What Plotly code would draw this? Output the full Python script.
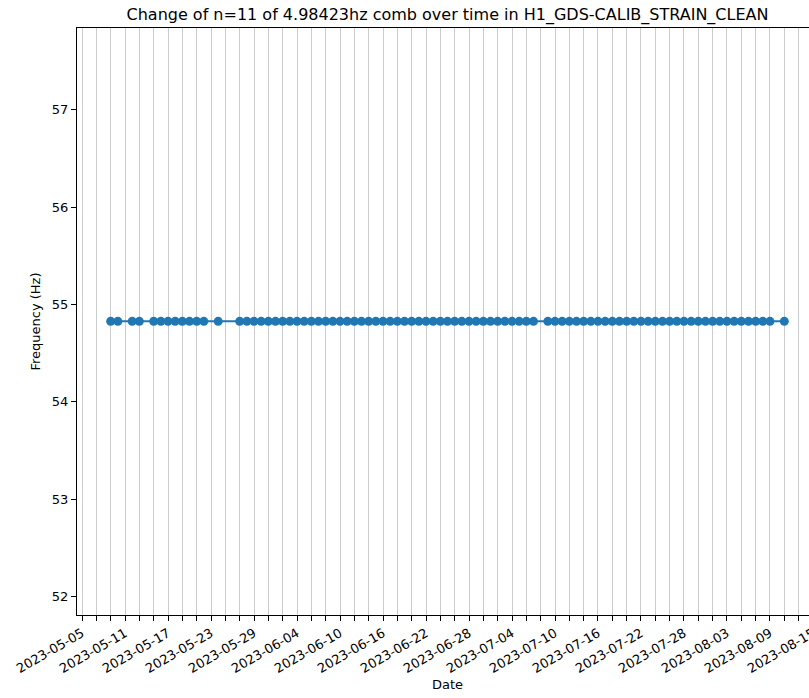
import plotly.graph_objects as go

dates = [
    "2023-05-09", "2023-05-10", "2023-05-12", "2023-05-13", "2023-05-15",
    "2023-05-16", "2023-05-17", "2023-05-18", "2023-05-19", "2023-05-20",
    "2023-05-21", "2023-05-22", "2023-05-24",
    "2023-05-27", "2023-05-28", "2023-05-29", "2023-05-30", "2023-05-31",
    "2023-06-01", "2023-06-02", "2023-06-03", "2023-06-04", "2023-06-05",
    "2023-06-06", "2023-06-07", "2023-06-08", "2023-06-09", "2023-06-10",
    "2023-06-11", "2023-06-12", "2023-06-13", "2023-06-14", "2023-06-15",
    "2023-06-16", "2023-06-17", "2023-06-18", "2023-06-19", "2023-06-20",
    "2023-06-21", "2023-06-22", "2023-06-23", "2023-06-24", "2023-06-25",
    "2023-06-26", "2023-06-27", "2023-06-28", "2023-06-29", "2023-06-30",
    "2023-07-01", "2023-07-02", "2023-07-03", "2023-07-04", "2023-07-05",
    "2023-07-06", "2023-07-07",
    "2023-07-09", "2023-07-10", "2023-07-11", "2023-07-12", "2023-07-13",
    "2023-07-14", "2023-07-15", "2023-07-16", "2023-07-17", "2023-07-18",
    "2023-07-19", "2023-07-20", "2023-07-21", "2023-07-22", "2023-07-23",
    "2023-07-24", "2023-07-25", "2023-07-26", "2023-07-27", "2023-07-28",
    "2023-07-29", "2023-07-30", "2023-07-31",
    "2023-08-01", "2023-08-02", "2023-08-03", "2023-08-04", "2023-08-05",
    "2023-08-06", "2023-08-07", "2023-08-08", "2023-08-09",
    "2023-08-11",
]
# Comb line frequency (n=11 of 4.98423 Hz), constant over the whole period
COMB_FREQ_HZ = 54.82653
freqs = [COMB_FREQ_HZ] * len(dates)

x_range = ["2023-05-04 07:12", "2023-08-15 16:48"]
y_range = [51.81, 57.84]
y_ticks = [52, 53, 54, 55, 56, 57]

DAY_MS = 86400000
FONT = "DejaVu Sans"
GRID = "#cccccc"
TICK_SIZE = 13

fig = go.Figure()
fig.add_trace(go.Scatter(
    x=dates, y=freqs, mode="lines+markers",
    line=dict(color="#1f77b4", width=2),
    marker=dict(color="#1f77b4", size=9),
    showlegend=False,
))

fig.update_layout(
    width=822, height=698,
    margin=dict(l=77, r=4, t=28, b=83),
    paper_bgcolor="white", plot_bgcolor="white",
    font=dict(family=FONT, size=TICK_SIZE, color="black"),
    title=dict(
        text="Change of n=11 of 4.98423hz comb over time in H1_GDS-CALIB_STRAIN_CLEAN",
        x=0.5, xref="paper", xanchor="center",
        y=1 - 14 / 698, yref="container", yanchor="middle",
        font=dict(family=FONT, size=16, color="black"),
    ),
    xaxis=dict(
        type="date", range=x_range,
        tick0="2023-05-05", dtick=6 * DAY_MS, tickformat="%Y-%m-%d",
        tickangle=-30, ticks="outside", ticklen=5, tickcolor="black",
        showgrid=True, gridcolor=GRID, gridwidth=1,
        showline=True, linecolor="black", linewidth=1, mirror=True,
        zeroline=False,
        minor=dict(tick0="2023-05-05", dtick=2 * DAY_MS, ticks="outside",
                   ticklen=5, tickcolor="black", showgrid=True,
                   gridcolor=GRID, gridwidth=1),
        title=dict(text="Date", standoff=4, font=dict(family=FONT, size=TICK_SIZE)),
        tickfont=dict(family=FONT, size=TICK_SIZE),
    ),
    yaxis=dict(
        range=y_range, tickvals=y_ticks,
        ticks="outside", ticklen=5, tickcolor="black",
        showgrid=False, zeroline=False,
        showline=True, linecolor="black", linewidth=1, mirror=True,
        title=dict(text="Frequency (Hz)", standoff=8, font=dict(family=FONT, size=TICK_SIZE)),
        tickfont=dict(family=FONT, size=TICK_SIZE),
    ),
)

fig.write_html(
    "out.html",
    config={"displayModeBar": False},
    post_script="document.body.style.margin='0';document.body.style.overflow='hidden';",
)
